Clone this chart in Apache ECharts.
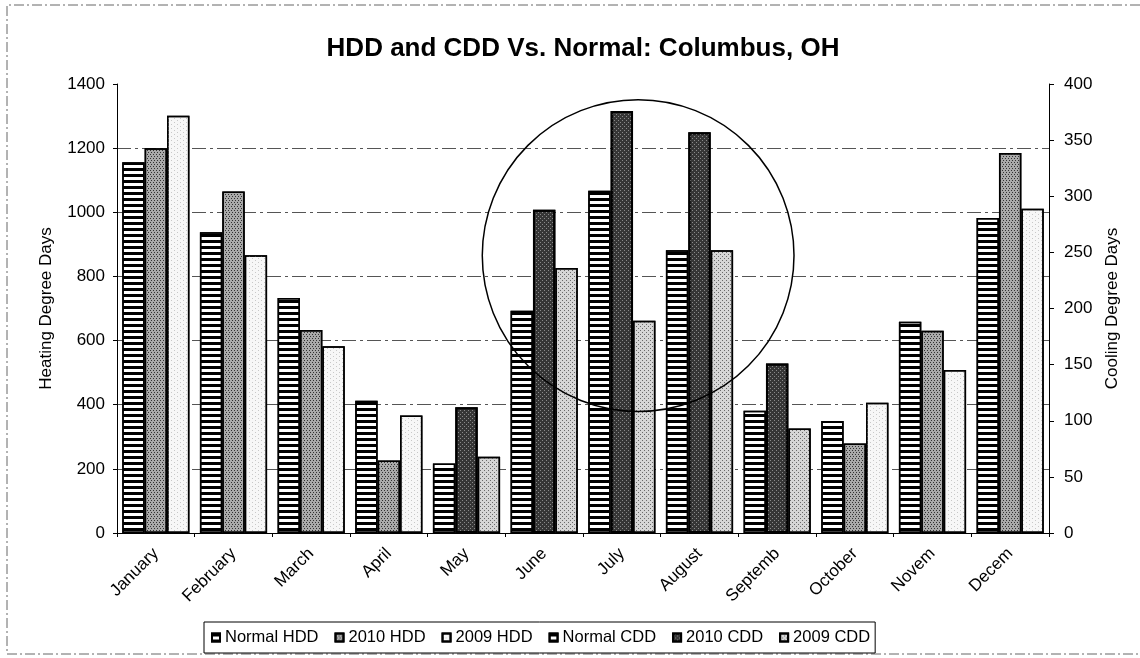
<!DOCTYPE html>
<html><head><meta charset="utf-8">
<script src="https://cdn.jsdelivr.net/npm/echarts@6/dist/echarts.min.js"></script>
<style>html,body{margin:0;padding:0;background:#fff}#c{width:1140px;height:658px}</style>
</head><body><div id="c"></div>
<script>
// ---- data ----
const months = ['January','February','March','April','May','June','July','August','Septemb','October','Novem','Decem'];
const normalHDD = [1156, 938, 733, 412, null, null, null, null, null, 349, 659, 982];
const hdd2010   = [1200, 1065, 633, 226, null, null, null, null, null, 279, 631, 1185];
const hdd2009   = [1301, 866, 582, 366, null, null, null, null, null, 406, 508, 1011];
const normalCDD = [null, null, null, null, 62, 198, 305, 252, 109, null, null, null];
const cdd2010   = [null, null, null, null, 112, 288, 376, 357, 151, null, null, null];
const cdd2009   = [null, null, null, null, 68, 236, 189, 252, 93, null, null, null];
const hddAxis = {min: 0, max: 1400, interval: 200};
const cddAxis = {min: 0, max: 400, interval: 50};
const seriesNames = ['Normal HDD','2010 HDD','2009 HDD','Normal CDD','2010 CDD','2009 CDD'];
// annotation circle (highlighting summer months)
const circleNote = {from: 'July', to: 'August', frac: 0.21, value: 865, radiusValue: 486};

const FONT = 'Liberation Sans, Arial, sans-serif';
const stripes = {symbol:'rect', symbolSize:1, dashArrayX:[1,0], dashArrayY:[3,3], rotation:0, color:'#000'};
function dots(c, gap){ return {symbol:'rect', symbolSize:1, dashArrayX:[[1,gap],[0,Math.ceil(gap/2),1,gap-Math.ceil(gap/2)]], dashArrayY:[1,1], rotation:0, color:c}; }

const styles = [
  {color:'#ffffff', decal: stripes},
  {color:'#aaaaaa', decal: dots('#333333', 2)},
  {color:'#f7f7f7', decal: dots('#c8c8c8', 5)},
  {color:'#ffffff', decal: stripes},
  {color:'#363636', decal: dots('#8a8a8a', 3)},
  {color:'#d6d6d6', decal: dots('#6a6a6a', 3)}
];
const dataSets = [normalHDD, hdd2010, hdd2009, normalCDD, cdd2010, cdd2009];

const series = dataSets.map((d, i) => {
  const ax = i < 3 ? 0 : 1;
  return {
    name: seriesNames[i], type: 'bar', data: d,
    xAxisIndex: ax, yAxisIndex: ax,
    barGap: '0%', barCategoryGap: '13.5%',
    itemStyle: Object.assign({borderColor:'#000', borderWidth: i === 4 ? 2 : 1.5}, styles[i]),
    emphasis: {disabled: true}
  };
});

const chart = echarts.init(document.getElementById('c'), null, {renderer:'canvas'});
const axisTxt = {color:'#000', fontSize:17, fontFamily: FONT};
const plain = v => String(v);
chart.setOption({
  animation: false,
  backgroundColor: '#fff',
  title: {
    text: 'HDD and CDD Vs. Normal: Columbus, OH',
    left: 578, top: 31, textAlign: 'center',
    textStyle: {fontSize: 26, fontWeight: 'bold', color:'#000', fontFamily: FONT}
  },
  legend: {
    data: seriesNames, left: 204, top: 622,
    orient: 'horizontal', icon: 'rect', itemWidth: 8, itemHeight: 8, itemGap: 16,
    padding: [7, 5, 7, 7], borderColor: '#000', borderWidth: 1,
    textStyle: {fontSize: 16.5, color:'#000', fontFamily: FONT}
  },
  grid: {left: 117, right: 91, top: 84, height: 449, containLabel: false},
  xAxis: [
    {type:'category', data: months, gridIndex: 0,
     axisLine: {show:true, lineStyle:{color:'#000', width:1}},
     axisTick: {show:true, length:4, lineStyle:{color:'#000'}},
     axisLabel: Object.assign({rotate:45, interval:0, margin:18}, axisTxt)},
    {type:'category', data: months, gridIndex: 0, show: false}
  ],
  yAxis: [
    {type:'value', min: hddAxis.min, max: hddAxis.max, interval: hddAxis.interval, position:'left',
     name:'Heating Degree Days', nameLocation:'middle', nameRotate:90, nameGap:62,
     nameTextStyle: {fontSize:17, color:'#000', fontFamily: FONT},
     axisLine:{show:true, lineStyle:{color:'#000', width:1}},
     axisTick:{show:true, length:4, lineStyle:{color:'#000'}},
     axisLabel: Object.assign({margin:12, formatter: plain}, axisTxt),
     splitLine:{show:true, showMinLine:false, showMaxLine:false, lineStyle:{color:'#555', width:1, type:[14,4,3,4]}}},
    {type:'value', min: cddAxis.min, max: cddAxis.max, interval: cddAxis.interval, position:'right',
     name:'Cooling Degree Days', nameLocation:'middle', nameRotate:90, nameGap:55,
     nameTextStyle: {fontSize:17, color:'#000', fontFamily: FONT},
     axisLine:{show:true, lineStyle:{color:'#000', width:1}},
     axisTick:{show:true, length:5, lineStyle:{color:'#000'}},
     axisLabel: Object.assign({margin:15, formatter: plain}, axisTxt),
     splitLine:{show:false}}
  ],
  series: series
});

// annotation circle and page border
const xa = chart.convertToPixel({xAxisIndex:0}, circleNote.from);
const xb = chart.convertToPixel({xAxisIndex:0}, circleNote.to);
const cy = chart.convertToPixel({yAxisIndex:0}, circleNote.value);
const r = chart.convertToPixel({yAxisIndex:0}, 0) - chart.convertToPixel({yAxisIndex:0}, circleNote.radiusValue);
chart.setOption({
  graphic: [
    {type:'circle', shape:{cx: xa + circleNote.frac*(xb-xa), cy: cy, r: r}, style:{fill:'none', stroke:'#000', lineWidth:1.5}, z: 100},
    {type:'polyline', shape:{points:[[1140,5],[7,5],[7,654],[1140,654]]}, style:{fill:'none', stroke:'#666', lineWidth:1, lineDash:[10,3,2,3]}, z: 0}
  ]
});
</script>
</body></html>
